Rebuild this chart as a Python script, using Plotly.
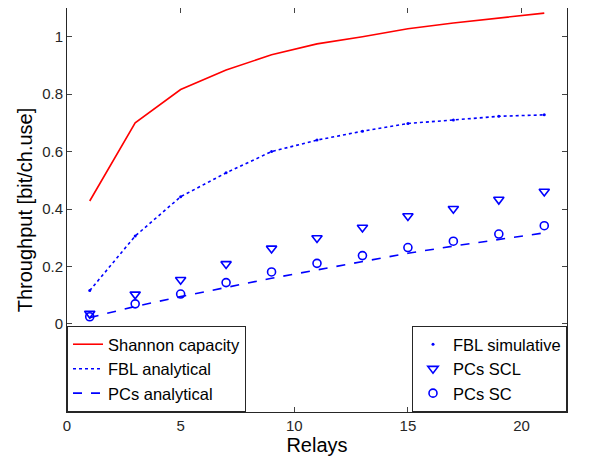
import plotly.graph_objects as go

relays = [1, 3, 5, 7, 9, 11, 13, 15, 17, 19, 21]
shannon = [0.428, 0.700, 0.816, 0.884, 0.937, 0.975, 1.000, 1.028, 1.048, 1.065, 1.082]
fbl_analytical = [0.116, 0.306, 0.443, 0.526, 0.600, 0.640, 0.671, 0.698, 0.710, 0.723, 0.728]
fbl_sim = [0.116, 0.306, 0.443, 0.526, 0.600, 0.640, 0.671, 0.698, 0.710, 0.723, 0.728]
pcs_scl = [0.036, 0.103, 0.154, 0.209, 0.263, 0.299, 0.336, 0.376, 0.401, 0.433, 0.461]
pcs_sc = [0.025, 0.070, 0.104, 0.144, 0.181, 0.211, 0.238, 0.266, 0.288, 0.313, 0.342]
pcs_analytical = [0.022, 0.061, 0.095, 0.127, 0.159, 0.188, 0.218, 0.246, 0.271, 0.295, 0.317]

blue = "#0000ff"
red = "#ff0000"
fig = go.Figure()
fig.add_trace(go.Scatter(x=relays, y=shannon, mode="lines", name="Shannon capacity",
                         line=dict(color=red, width=1.6), legend="legend"))
fig.add_trace(go.Scatter(x=relays, y=fbl_analytical, mode="lines", name="FBL analytical",
                         line=dict(color=blue, width=1.6, dash="dot"), legend="legend"))
fig.add_trace(go.Scatter(x=relays, y=pcs_analytical, mode="lines", name="PCs analytical",
                         line=dict(color=blue, width=1.6, dash="dash"), legend="legend"))
fig.add_trace(go.Scatter(x=relays, y=fbl_sim, mode="markers", name="FBL simulative",
                         marker=dict(color=blue, size=3, symbol="circle"), legend="legend2"))
fig.add_trace(go.Scatter(x=relays, y=pcs_scl, mode="markers", name="PCs SCL",
                         marker=dict(color=blue, size=9, symbol="triangle-down-open",
                                     line=dict(width=1.6, color=blue)), legend="legend2"))
fig.add_trace(go.Scatter(x=relays, y=pcs_sc, mode="markers", name="PCs SC",
                         marker=dict(color=blue, size=8, symbol="circle-open",
                                     line=dict(width=1.6, color=blue)), legend="legend2"))

axcol = "#262626"
fig.update_layout(
    width=597, height=459,
    margin=dict(l=59, r=38, t=0, b=55, pad=0),
    plot_bgcolor="white", paper_bgcolor="white",
    font=dict(family="Liberation Sans, Arial, sans-serif", color=axcol, size=15),
    showlegend=True,
    legend=dict(x=0, y=0, xanchor="left", yanchor="bottom", bgcolor="white",
                bordercolor=axcol, borderwidth=1, font=dict(size=16.5, color="#000"),
                tracegroupgap=0, itemwidth=30),
    legend2=dict(x=1, y=0, xanchor="right", yanchor="bottom", bgcolor="white",
                 bordercolor=axcol, borderwidth=1, font=dict(size=16.5, color="#000"),
                 tracegroupgap=0, itemwidth=30),
)
fig.update_xaxes(range=[0, 22], tickvals=[0, 5, 10, 15, 20], ticks="inside", ticklen=5,
                 showline=True, linecolor=axcol, linewidth=1, mirror="ticks",
                 showgrid=False, zeroline=False, tickfont=dict(size=15), automargin=False,
                 title=dict(text="Relays", font=dict(size=20, color="#000"), standoff=4))
fig.update_yaxes(range=[-0.3066, 1.1], tickvals=[0, 0.2, 0.4, 0.6, 0.8, 1],
                 ticktext=["0", "0.2", "0.4", "0.6", "0.8", "1"],
                 ticks="inside", ticklen=5,
                 showline=True, linecolor=axcol, linewidth=1, mirror="ticks",
                 showgrid=False, zeroline=False, tickfont=dict(size=15), automargin=False,
                 title=dict(text="Throughput [bit/ch.use]", font=dict(size=20, color="#000"), standoff=4))
fig.write_html("out.html")
